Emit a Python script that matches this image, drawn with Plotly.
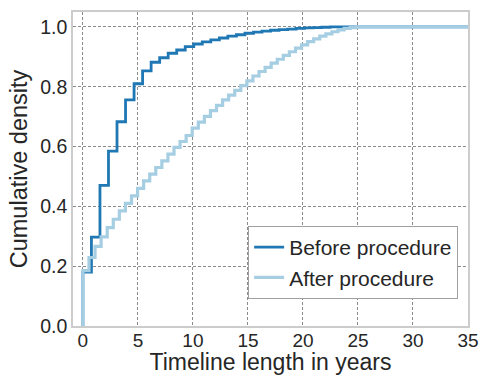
import plotly.graph_objects as go

# ECDF step levels (one value per histogram bin)
before_bin_width = 0.775   # years per bin, "Before procedure"
after_bin_width = 0.552    # years per bin, "After procedure"
before_max_edge = 48.6
after_max_edge = 35.5

before_levels = [0.18, 0.297, 0.47, 0.585, 0.683, 0.756, 0.81, 0.853, 0.882, 0.897,
                 0.912, 0.923, 0.934, 0.943, 0.95, 0.957, 0.963, 0.969, 0.974, 0.979,
                 0.983, 0.986, 0.989, 0.991, 0.993, 0.995, 0.997, 0.998, 0.999, 1.0]

after_levels = [0.185, 0.229, 0.266, 0.298, 0.329, 0.357, 0.385, 0.41, 0.435, 0.46,
                0.485, 0.508, 0.53, 0.552, 0.575, 0.597, 0.617, 0.637, 0.662, 0.682,
                0.701, 0.72, 0.738, 0.756, 0.772, 0.788, 0.804, 0.82, 0.836, 0.851,
                0.865, 0.879, 0.892, 0.905, 0.917, 0.929, 0.94, 0.951, 0.96, 0.969,
                0.977, 0.984, 0.99, 0.995, 0.998, 1.0]

series_names = ["Before procedure", "After procedure"]
series_colors = ["#1f78b4", "#a6cee3"]
series_widths = [2.8, 3.2]
x_ticks = [0, 5, 10, 15, 20, 25, 30, 35]
y_ticks = [0.0, 0.2, 0.4, 0.6, 0.8, 1.0]


def step_xy(levels, width, max_edge):
    xs = [0.0]
    ys = [0.0]
    for k, v in enumerate(levels):
        xs.append(k * width)
        ys.append(v)
    xs.append(max_edge)
    ys.append(levels[-1])
    return xs, ys


fig = go.Figure()
for levels, width, edge, name, color, lw in [
    (before_levels, before_bin_width, before_max_edge, series_names[0], series_colors[0], series_widths[0]),
    (after_levels, after_bin_width, after_max_edge, series_names[1], series_colors[1], series_widths[1]),
]:
    xs, ys = step_xy(levels, width, edge)
    fig.add_trace(go.Scatter(x=xs, y=ys, mode="lines", name=name,
                             line=dict(color=color, width=lw, shape="hv")))

font_family = "Liberation Sans, Arial, sans-serif"
fig.update_layout(
    width=479, height=375,
    margin=dict(l=73, r=11, t=12, b=49, autoexpand=False),
    paper_bgcolor="white", plot_bgcolor="white",
    font=dict(family=font_family, color="#262626", size=19.5),
    showlegend=True,
    legend=dict(x=0.975, y=0.086, xanchor="right", yanchor="bottom",
                bgcolor="white", bordercolor="#a0a0a0", borderwidth=1,
                itemwidth=30, tracegroupgap=0,
                font=dict(size=21, color="#262626")),
)
grid_kw = dict(showgrid=True, gridcolor="#8a8a8a", griddash="3px,2px", gridwidth=0.9,
               showline=True, mirror=True, linecolor="#cccccc", linewidth=1.5,
               zeroline=False, ticks="", ticklen=0, automargin=True)
fig.update_xaxes(
    range=[-0.9, 35], tickvals=x_ticks, ticktext=[str(t) for t in x_ticks],
    tickfont=dict(size=19), ticklabelstandoff=-4,
    title=dict(text="Timeline length in years", font=dict(size=23), standoff=6),
    **grid_kw,
)
fig.update_yaxes(
    range=[0, 1.05], tickvals=y_ticks, ticktext=[f"{t:.1f}" for t in y_ticks],
    tickfont=dict(size=19.5),
    title=dict(text="Cumulative density", font=dict(size=23.5), standoff=6),
    **grid_kw,
)

fig.write_html("out.html")
